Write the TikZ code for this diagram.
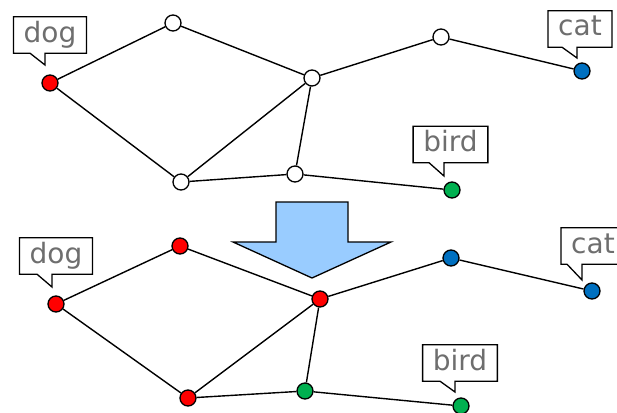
\documentclass[tikz,border=0pt]{standalone}
\usepackage{fontspec}
\setmainfont{DejaVu Sans}
\usetikzlibrary{calc}

\definecolor{vRed}{HTML}{FF0000}
\definecolor{vBlue}{HTML}{0070C0}
\definecolor{vGreen}{HTML}{00B050}
\definecolor{tagGray}{HTML}{6E6E6E}
\definecolor{arrowBlue}{HTML}{99CCFF}

% speech-bubble outline around a tag node, tail ending at #2
\newcommand{\speech}[2]{%
  \draw[tagline] (#1.south west) |- (#1.north east) |- (#2 |- #1.south)
    -- (#2) -- ($(#2 |- #1.south)+(-15,0)$) -- cycle;}

\begin{document}
\begin{tikzpicture}[
  x=1pt,y=-1pt,
  vertex/.style={circle,draw,line width=1.3pt,minimum size=16pt,inner sep=0pt,fill=white},
  link/.style={draw,line width=1.4pt},
  tag/.style={font=\fontsize{28}{30}\selectfont,text=tagGray,
              text height=21pt,text depth=7pt,inner xsep=10pt,inner ysep=4pt},
  tagline/.style={draw,line width=1.3pt},
]
  \useasboundingbox (0,0) rectangle (617,412);

  % before
  \node[vertex,fill=vRed]   (dog1)  at (50,83)   {};
  \node[vertex]             (a1)    at (173,23)  {};
  \node[vertex]             (hub1)  at (312,78)  {};
  \node[vertex]             (b1)    at (441,37)  {};
  \node[vertex,fill=vBlue]  (cat1)  at (582,71)  {};
  \node[vertex]             (c1)    at (181,182) {};
  \node[vertex]             (d1)    at (295,174) {};
  \node[vertex,fill=vGreen] (bird1) at (452,190) {};

  % after
  \node[vertex,fill=vRed]   (dog2)  at (56,304)  {};
  \node[vertex,fill=vRed]   (a2)    at (180,246) {};
  \node[vertex,fill=vRed]   (hub2)  at (320,299) {};
  \node[vertex,fill=vBlue]  (b2)    at (451,258) {};
  \node[vertex,fill=vBlue]  (cat2)  at (592,291) {};
  \node[vertex,fill=vRed]   (c2)    at (188,398) {};
  \node[vertex,fill=vGreen] (d2)    at (305,391) {};
  \node[vertex,fill=vGreen] (bird2) at (461,406) {};

  \foreach \g in {1,2}{
    \path[link] (dog\g) edge (a\g)
                (a\g)   edge (hub\g)
                (hub\g) edge (b\g)
                (b\g)   edge (cat\g)
                (dog\g) edge (c\g)
                (c\g)   edge (hub\g)
                (hub\g) edge (d\g)
                (c\g)   edge (d\g)
                (d\g)   edge (bird\g);
  }

  % tags
  \node[tag] (tdog1)  at (50,35)       {dog};
  \node[tag] (tcat1)  at (580,29)      {cat};
  \node[tag] (tbird1) at (450.5,144.5) {bird};
  \node[tag] (tdog2)  at (56,256)      {dog};
  \node[tag] (tcat2)  at (593,246)     {cat};
  \node[tag] (tbird2) at (460,363)     {bird};
  \coordinate (pdog1)  at (45,65);
  \coordinate (pcat1)  at (577,58);
  \coordinate (pbird1) at (444,176);
  \coordinate (pdog2)  at (52,287);
  \coordinate (pcat2)  at (582,280);
  \coordinate (pbird2) at (455,392);
  \foreach \n in {dog1,cat1,bird1,dog2,cat2,bird2}
    \speech{t\n}{p\n};

  % block arrow between the two graphs
  \draw[line width=1.3pt,fill=arrowBlue,line join=miter]
    (276,202) -- (348,202) -- (348,242) -- (391,242) -- (312,278)
    -- (233,242) -- (276,242) -- cycle;
\end{tikzpicture}
\end{document}
